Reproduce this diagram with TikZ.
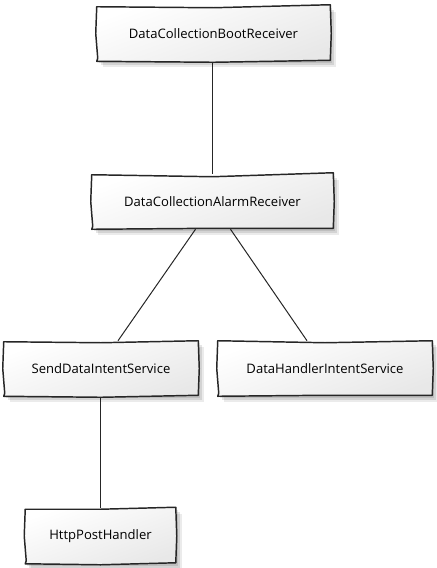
\documentclass[tikz,border=0pt]{standalone}
\usepackage{fontspec}
\setmainfont{Open Sans}
\tikzset{
  x=0.75pt, y=-0.75pt,
  box/.style={rectangle, minimum height=55*0.75pt, inner sep=0pt},
  outline/.style={line width=1.1pt, draw=black!85, line join=round, top color=white, bottom color=black!9, shading angle=20},
  shadowfill/.style={fill=black, opacity=0.12, draw=none},
  conn/.style={line width=0.75pt, draw=black!85},
  lbl/.style={font=\fontsize{9.8}{11}\selectfont}
}
\newcommand\wobblebox[5]{% name, top-left dy, top-mid dy, top-right dy, bottom-mid dy
  \foreach \s/\o in {2/0.10,4/0.10,6/0.08}{
    \fill[shadowfill, opacity=\o] ([shift={(\s,\s)}]#1.north west) -- ([shift={(\s,\s)}]#1.north east) -- ([shift={(\s,\s)}]#1.south east) -- ([shift={(\s,\s)}]#1.south west) -- cycle;
  }
  \path[outline] ([shift={(0,#2)}]#1.north west) -- ([shift={(0,#3)}]#1.north) -- ([shift={(0,#4)}]#1.north east)
     -- ([shift={(1,0)}]#1.east) -- ([shift={(0,-1)}]#1.south east) -- ([shift={(0,#5)}]#1.south)
     -- ([shift={(0,0)}]#1.south west) -- ([shift={(1,-3)}]#1.south west) -- ([shift={(-1,0)}]#1.west) -- cycle;
  \node[lbl] at (#1.center) {\csname lbl#1\endcsname};
}
\begin{document}
\begin{tikzpicture}
\useasboundingbox (0,0) rectangle (436,568);
\def\lblboot{DataCollectionBootReceiver}
\def\lblalarm{DataCollectionAlarmReceiver}
\def\lblsend{SendDataIntentService}
\def\lblhandler{DataHandlerIntentService}
\def\lblhttp{HttpPostHandler}
\node[box, minimum width=233*0.75pt] (boot) at (213.5,33.5) {};
\node[box, minimum width=241*0.75pt] (alarm) at (212.5,201.5) {};
\node[box, minimum width=194*0.75pt] (send) at (101,368.5) {};
\node[box, minimum width=214*0.75pt] (handler) at (325,368.5) {};
\node[box, minimum width=150*0.75pt] (http) at (100.5,536) {};

\draw[conn] ([xshift=-1*0.75pt]boot.south) -- ([xshift=0*0.75pt]alarm.north);
\draw[conn] ([xshift=-17*0.75pt]alarm.south) -- ([xshift=17*0.75pt]send.north);
\draw[conn] ([xshift=18*0.75pt]alarm.south) -- ([xshift=-18*0.75pt]handler.north);
\draw[conn] ([xshift=-0.5*0.75pt]send.south) -- (http.north);

\wobblebox{boot}{1}{2}{-1}{1}
\wobblebox{alarm}{1}{3}{-1}{-1}
\wobblebox{send}{1}{2}{0}{1}
\wobblebox{handler}{0}{2}{0}{-1}
\wobblebox{http}{1}{1}{-1}{1}
\end{tikzpicture}
\end{document}
